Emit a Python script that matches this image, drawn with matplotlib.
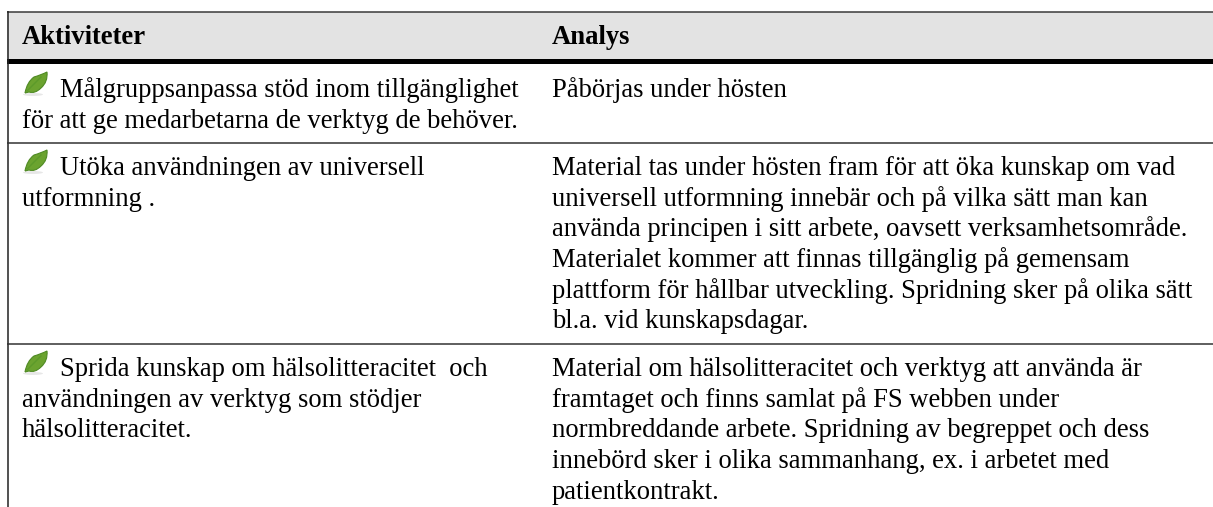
import matplotlib
matplotlib.use("Agg")
import matplotlib.pyplot as plt
from matplotlib.path import Path
from matplotlib.patches import PathPatch, Ellipse

W, H = 1213, 507
plt.rcParams['font.family'] = ['Liberation Serif']

headers = ["Aktiviteter", "Analys"]
left_col = [
    ["Målgruppsanpassa stöd inom tillgänglighet", "för att ge medarbetarna de verktyg de behöver."],
    ["Utöka användningen av universell", "utformning ."],
    ["Sprida kunskap om hälsolitteracitet  och", "användningen av verktyg som stödjer", "hälsolitteracitet."],
]
right_col = [
    ["Påbörjas under hösten"],
    ["Material tas under hösten fram för att öka kunskap om vad",
     "universell utformning innebär och på vilka sätt man kan",
     "använda principen i sitt arbete, oavsett verksamhetsområde.",
     "Materialet kommer att finnas tillgänglig på gemensam",
     "plattform för hållbar utveckling. Spridning sker på olika sätt",
     "bl.a. vid kunskapsdagar."],
    ["Material om hälsolitteracitet och verktyg att använda är",
     "framtaget och finns samlat på FS webben under",
     "normbreddande arbete. Spridning av begreppet och dess",
     "innebörd sker i olika sammanhang, ex. i arbetet med",
     "patientkontrakt."],
]
row_baseline = [97, 175, 376]
separators = [142.5, 343.5]
FS = 19.2
LINE = 30.67
XL, XR = 22, 552
X_ICON_TEXT = 60
LEAF_X = 27

fig = plt.figure(figsize=(W/100, H/100), dpi=100)
ax = fig.add_axes([0, 0, 1, 1])
ax.set_xlim(0, W); ax.set_ylim(H, 0); ax.axis('off')

ax.fill_between([7, W], 12, 58.5, color='#e3e3e3', lw=0, zorder=0)
ax.plot([7, W], [11.5, 11.5], color='#3a3a3a', lw=1.1, solid_capstyle='butt')
ax.plot([7.5, 7.5], [11, H], color='#222222', lw=1.1, solid_capstyle='butt')
ax.fill_between([7, W], 58.5, 64, color='#000000', lw=0)
for y in separators:
    ax.plot([7, W], [y, y], color='#333333', lw=1.1, solid_capstyle='butt')

for x, t in zip((XL, XR), headers):
    ax.text(x, 44, t, fontsize=FS, fontweight='bold', va='baseline', color='black')


def leaf(y):
    x = LEAF_X
    ax.add_patch(Ellipse((x + 6, y + 21.5), 20, 3, facecolor='#e2e2e2', edgecolor='none', alpha=0.8))
    verts = [(x - 2, y + 20), (x, y + 9), (x + 7, y + 4), (x + 14, y + 2), (x + 20, y - 1),
             (x + 21, y + 9), (x + 14, y + 15), (x + 8, y + 21), (x + 2, y + 19), (x - 2, y + 20)]
    codes = [Path.MOVETO, Path.CURVE3, Path.CURVE3, Path.CURVE3, Path.CURVE3,
             Path.CURVE3, Path.CURVE3, Path.CURVE3, Path.CURVE3, Path.LINETO]
    ax.add_patch(PathPatch(Path(verts, codes), facecolor='#6ba32f', edgecolor='#4f8a24', lw=0.8))
    ax.plot([x, x + 14], [y + 18, y + 4], color='#5c9a2a', lw=1.0)


for top, ll, rl in zip(row_baseline, left_col, right_col):
    leaf(top - 24)
    for i, t in enumerate(ll):
        x = X_ICON_TEXT if i == 0 else XL
        ax.text(x, top + i*LINE, t, fontsize=FS, va='baseline', color='black')
    for i, t in enumerate(rl):
        ax.text(XR, top + i*LINE, t, fontsize=FS, va='baseline', color='black')

fig.savefig('out.png', dpi=100)
